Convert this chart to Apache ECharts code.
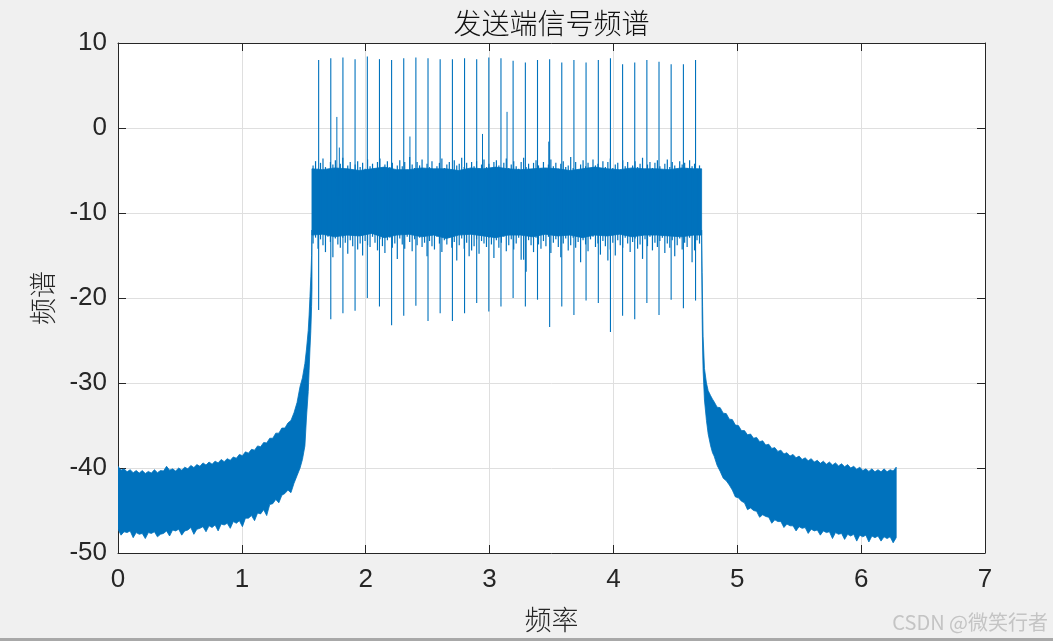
<!DOCTYPE html>
<html><head><meta charset="utf-8">
<script src="https://cdn.jsdelivr.net/npm/echarts@6/dist/echarts.min.js"></script>
<style>html,body{margin:0;padding:0;background:#f0f0f0;}#c{width:1053px;height:641px;}</style>
</head><body><div id="c"></div>
<script>
// ---------------- data ----------------
const titleText = '发送端信号频谱';
const xName = '频率';
const yName = '频谱';
const xTickLabels = ['0','1','2','3','4','5','6','7'];
const yTickLabels = ['-50','-40','-30','-20','-10','0','10'];

// stop band, left side (regular sampling grid: start, step)
const leftStart = 0, leftStep = 0.0245;
const leftHi = [-39.8,-40.25,-40.1,-40.45,-40.2,-40.55,-40.3,-40.6,-40.3,-40.65,
  -40.4,-40.6,-40.2,-40.55,-40.3,-40.35,-39.8,-40.25,-40.1,-40.35,
  -40.0,-40.25,-39.9,-40.1,-39.7,-39.95,-39.6,-39.8,-39.4,-39.65,
  -39.3,-39.55,-39.2,-39.4,-39.0,-39.25,-38.9,-39.1,-38.7,-38.85,
  -38.4,-38.55,-38.1,-38.25,-37.8,-37.9,-37.4,-37.5,-37.0,-37.05,
  -36.5,-36.5,-35.9,-35.9,-35.3,-35.3,-34.7,-34.4,-33.5,-32.3,-30.4];
const leftLo = [-47.2,-47.9,-47.5,-47.6,-47.4,-48.2,-47.6,-47.8,-47.7,-48.3,
  -47.6,-47.7,-47.5,-48.1,-47.8,-47.7,-47.4,-48.0,-47.3,-47.4,
  -47.2,-47.9,-47.4,-47.3,-47.0,-47.8,-47.2,-47.1,-46.9,-47.5,
  -46.8,-47.0,-46.7,-47.4,-46.6,-46.7,-46.5,-47.1,-46.3,-46.5,
  -46.2,-46.9,-45.9,-45.9,-45.6,-46.2,-45.3,-45.4,-44.9,-45.6,
  -44.3,-44.2,-43.7,-44.1,-43.2,-43.0,-42.6,-42.9,-41.8,-40.9,-40.0];
// left transition
const leftTransFreq = [1.489,1.509,1.522,1.536,1.543,1.550,1.557,1.563,1.566];
const leftTransHi   = [-29.4,-27.7,-26.0,-23.8,-22.0,-19.8,-17.5,-15.0,-12.0];
const leftTransLo   = [-39.0,-37.4,-34.0,-31.0,-28.5,-26.0,-23.8,-21.0,-19.0];

// right transition
const rightTransFreq = [4.712,4.716,4.720,4.724,4.735,4.751,4.765,4.785,4.800];
const rightTransHi   = [-12.0,-17.0,-21.0,-24.5,-28.3,-30.0,-30.9,-31.5,-31.9];
const rightTransLo   = [-13.5,-22.0,-26.0,-28.5,-32.0,-34.4,-36.0,-37.4,-38.2];
// stop band, right side
const rightStart = 4.813, rightStep = 0.0245;
const rightHi = [-32.2,-32.85,-32.9,-33.55,-33.6,-34.25,-34.3,-34.95,-35.0,-35.6,
  -35.6,-36.1,-36.0,-36.5,-36.4,-36.9,-36.8,-37.3,-37.2,-37.7,
  -37.6,-38.05,-37.9,-38.35,-38.2,-38.6,-38.4,-38.8,-38.6,-39.0,
  -38.8,-39.15,-38.9,-39.3,-39.1,-39.45,-39.2,-39.55,-39.3,-39.65,
  -39.4,-39.75,-39.5,-39.85,-39.6,-40.0,-39.8,-40.15,-39.9,-40.3,
  -40.1,-40.4,-40.1,-40.45,-40.2,-40.45,-40.1,-40.45,-40.2,-40.35,-39.9];
const rightLo = [-38.6,-39.7,-40.4,-41.2,-41.5,-42.0,-42.6,-43.4,-43.5,-43.9,
  -44.1,-44.9,-44.7,-45.0,-45.1,-45.8,-45.5,-45.7,-45.8,-46.5,
  -46.1,-46.3,-46.3,-47.0,-46.6,-46.8,-46.8,-47.4,-46.9,-47.1,
  -47.0,-47.7,-47.2,-47.4,-47.3,-47.9,-47.4,-47.6,-47.5,-48.3,
  -47.6,-47.8,-47.7,-48.4,-47.8,-48.0,-47.8,-48.6,-47.9,-48.1,
  -47.9,-48.7,-48.0,-48.2,-48.0,-48.6,-48.1,-48.3,-48.1,-48.8,-48.2];

// pass band dense core
const coreFreq = [1.566,1.65,1.75,1.85,1.95,2.05,2.15,2.25,2.35,2.45,2.55,2.65,2.75,2.85,2.95,3.05,
  3.15,3.25,3.35,3.45,3.55,3.65,3.75,3.85,3.95,4.05,4.15,4.25,4.35,4.45,4.55,4.65,4.712];
const coreTop = [-4.8,-4.9,-4.7,-4.8,-5.0,-4.8,-4.6,-4.9,-4.9,-4.7,-4.8,-4.8,-5.0,-4.7,-4.8,-4.6,
  -4.8,-4.9,-4.8,-4.7,-4.8,-5.0,-4.8,-4.6,-4.8,-4.9,-4.7,-4.8,-4.8,-4.9,-4.7,-4.8,-4.8];
const coreBot = [-12.6,-12.5,-12.8,-12.6,-12.7,-12.4,-12.9,-12.6,-12.5,-12.8,-12.6,-13.0,-12.6,-12.5,-12.7,-12.9,
  -12.6,-12.6,-12.8,-12.5,-12.7,-12.6,-12.9,-12.6,-12.7,-12.5,-12.8,-12.6,-12.6,-12.7,-12.8,-12.6,-12.6];

// pass band noise tips (regular grid)
const tipStart = 1.575, tipStep = 0.02;
const tipHi = [-4.4,-3.9,-4.8,-4.1,-3.6,-4.6,-5.0,-4.0,-4.3,-3.8,
  -4.7,-4.2,-3.5,-4.9,-4.4,-4.0,-5.1,-4.3,-3.9,-4.6,
  -4.1,-4.8,-3.7,-4.5,-4.2,-5.0,-4.0,-3.6,-4.7,-4.3,
  -3.9,-4.6,-4.1,-5.2,-4.4,-3.8,-4.5,-4.0,-4.9,-3.4,
  -4.3,-4.7,-4.0,-4.4,-3.7,-4.8,-4.2,-4.6,-3.9,-5.0,
  -4.5,-4.1,-3.6,-4.7,-4.3,-4.0,-4.9,-3.8,-4.4,-4.2,
  -3.5,-4.6,-4.1,-5.1,-4.0,-4.5,-3.9,-4.8,-4.3,-3.7,
  -4.6,-4.2,-4.9,-4.0,-3.8,-4.4,-5.0,-4.1,-3.6,-4.7,
  -4.3,-3.9,-4.5,-4.8,-4.0,-3.5,-4.6,-4.2,-4.9,-4.1,
  -3.8,-4.4,-4.7,-4.0,-5.1,-4.3,-3.7,-4.5,-4.1,-4.8,
  -4.2,-3.9,-4.6,-4.4,-3.4,-4.7,-4.0,-4.9,-4.3,-3.8,
  -4.5,-4.1,-5.0,-3.7,-4.4,-4.2,-4.8,-3.9,-4.6,-4.0,
  -3.6,-4.7,-4.3,-4.1,-4.9,-3.8,-4.5,-4.0,-5.2,-4.4,
  -3.9,-4.6,-4.2,-3.5,-4.8,-4.3,-4.0,-4.7,-4.1,-3.8,
  -4.5,-4.9,-4.2,-3.7,-4.6,-4.0,-4.4,-5.0,-3.9,-4.3,
  -4.1,-4.7,-3.8,-4.5,-4.2,-4.8,-4.4];
const tipLo = [-13.6,-12.9,-14.2,-13.1,-13.8,-14.6,-12.8,-13.4,-15.2,-13.0,
  -13.7,-14.1,-12.9,-13.5,-14.8,-13.2,-13.9,-12.7,-14.3,-13.6,
  -15.0,-13.3,-13.8,-14.0,-12.8,-13.5,-14.4,-13.1,-13.9,-14.7,
  -13.2,-12.9,-14.1,-13.6,-15.4,-13.0,-13.7,-14.2,-12.8,-13.4,
  -14.5,-13.1,-13.8,-12.9,-14.0,-13.5,-15.1,-13.3,-13.9,-14.3,
  -12.8,-13.6,-14.6,-13.2,-13.7,-12.9,-14.1,-13.4,-15.6,-13.8,
  -13.0,-14.2,-13.5,-15.1,-14.4,-13.9,-13.1,-14.8,-13.3,-13.6,
  -14.0,-12.9,-13.7,-15.3,-13.2,-14.1,-13.5,-12.8,-14.5,-13.8,
  -13.1,-14.3,-13.6,-12.9,-15.5,-15.5,-16.9,-13.2,-13.8,-14.6,
  -12.9,-13.7,-14.2,-13.3,-13.9,-12.8,-14.7,-13.5,-13.1,-14.0,
  -15.2,-13.6,-13.0,-14.4,-13.8,-12.9,-14.1,-13.4,-15.8,-13.2,
  -13.7,-14.5,-13.1,-12.8,-14.0,-13.6,-14.9,-13.3,-13.9,-15.6,
  -14.3,-13.5,-15.0,-13.2,-13.8,-14.1,-12.9,-13.6,-14.6,-13.4,
  -13.0,-14.2,-13.7,-15.4,-13.1,-13.9,-12.8,-14.4,-13.5,-14.0,
  -13.3,-12.9,-14.7,-13.6,-14.1,-13.2,-15.1,-13.8,-13.0,-14.3,
  -13.5,-14.0,-12.9,-15.8,-14.4,-13.2,-13.6];

// tone spikes
const spikeFreq = [1.620,1.718,1.816,1.914,2.013,2.111,2.209,2.307,2.405,2.503,2.601,2.700,2.798,2.896,2.994,3.092,
  3.190,3.289,3.387,3.485,3.583,3.681,3.779,3.878,3.976,4.074,4.172,4.270,4.368,4.466,4.565,4.663];
const spikeHi = [8.0,8.2,8.3,8.1,8.4,8.1,8.0,8.2,8.3,8.2,8.1,8.1,8.2,8.1,8.3,8.2,
  7.9,7.7,8.0,8.1,7.7,8.0,7.7,8.0,8.2,7.5,7.7,8.0,7.8,7.5,7.5,8.0];
const spikeLo = [-21.4,-22.5,-21.8,-21.5,-20.0,-21.0,-23.2,-22.1,-20.9,-22.7,-21.8,-22.7,-21.8,-20.6,-21.6,-21.0,
  -20.0,-21.0,-20.2,-23.4,-21.0,-22.0,-20.3,-20.6,-24.0,-22.1,-22.5,-20.6,-22.0,-20.2,-21.2,-20.3];
// smaller isolated peaks
const minorFreq = [1.767,1.787,2.357,2.943,3.141,3.478];
const minorHi   = [1.3,-2.3,-1.0,-0.7,1.9,-1.6];
const minorLo   = [-8.0,-8.0,-8.0,-8.0,-8.0,-8.0];

// ---------------- chart ----------------
const BLUE = '#0072BD';
const AX = '#262626';
const LATIN = '"Liberation Sans", Arial, Helvetica, sans-serif';
const CJK = '"Noto Sans CJK SC", "Noto Sans", sans-serif';

function gridX(start, step, n) { const a = []; for (let i = 0; i < n; i++) a.push(+(start + i * step).toFixed(4)); return a; }

const leftX = gridX(leftStart, leftStep, leftHi.length).concat(leftTransFreq);
const leftH = leftHi.concat(leftTransHi);
const leftL = leftLo.concat(leftTransLo);
const rightX = rightTransFreq.concat(gridX(rightStart, rightStep, rightHi.length));
const rightH = rightTransHi.concat(rightHi);
const rightL = rightTransLo.concat(rightLo);

function bandSeries(xs, hi, lo) {
  return {
    type: 'custom', clip: true, silent: true, z: 2,
    data: [[xs[0], hi[0]]],
    renderItem(params, api) {
      const pts = [];
      for (let i = 0; i < xs.length; i++) pts.push(api.coord([xs[i], hi[i]]));
      for (let i = xs.length - 1; i >= 0; i--) pts.push(api.coord([xs[i], lo[i]]));
      return { type: 'polygon', shape: { points: pts }, style: { fill: BLUE, stroke: BLUE, lineWidth: 0.8 } };
    }
  };
}
function segSeries(data, width) {
  return {
    type: 'custom', clip: true, silent: true, z: 3,
    data, encode: { x: 0, y: [1, 2] },
    renderItem(params, api) {
      const a = api.coord([api.value(0), api.value(1)]);
      const b = api.coord([api.value(0), api.value(2)]);
      return { type: 'line', shape: { x1: a[0], y1: a[1], x2: b[0], y2: b[1] }, style: { stroke: BLUE, lineWidth: width } };
    }
  };
}

const tipData = tipHi.map((h, i) => [+(tipStart + i * tipStep).toFixed(4), h, tipLo[i]]);
const spikeData = spikeFreq.map((f, i) => [f, spikeHi[i], spikeLo[i]]);
const minorData = minorFreq.map((f, i) => [f, minorHi[i], minorLo[i]]);

const axisCommon = {
  type: 'value',
  axisLine: { show: true, onZero: false, lineStyle: { color: AX, width: 1 } },
  axisTick: { show: true, inside: true, length: 8, lineStyle: { color: AX, width: 1 } },
};

const chart = echarts.init(document.getElementById('c'), null, { renderer: 'canvas' });
chart.setOption({
  animation: false,
  backgroundColor: '#f0f0f0',
  grid: { left: 118, right: 68, top: 43, bottom: 88, show: true, backgroundColor: '#ffffff', borderWidth: 0 },
  xAxis: [
    Object.assign({}, axisCommon, {
      min: 0, max: 7, interval: 1, position: 'bottom',
      axisLabel: { margin: 14, color: AX, fontFamily: LATIN, fontSize: 26, formatter: v => xTickLabels[Math.round(v)] },
      splitLine: { show: true, lineStyle: { color: '#dfdfdf', width: 1 } },
      name: xName, nameLocation: 'middle', nameGap: 53,
      nameTextStyle: { fontFamily: CJK, fontSize: 27, fontWeight: 300, color: AX }
    }),
    Object.assign({}, axisCommon, {
      min: 0, max: 7, interval: 1, position: 'top',
      axisLabel: { show: false }, splitLine: { show: false }
    })
  ],
  yAxis: [
    Object.assign({}, axisCommon, {
      min: -50, max: 10, interval: 10, position: 'left',
      axisLabel: { margin: 11, color: AX, fontFamily: LATIN, fontSize: 26, formatter: v => yTickLabels[Math.round((v + 50) / 10)] },
      splitLine: { show: true, lineStyle: { color: '#dfdfdf', width: 1 } },
      name: yName, nameLocation: 'middle', nameGap: 62, nameRotate: 90,
      nameTextStyle: { fontFamily: CJK, fontSize: 27, fontWeight: 300, color: AX }
    }),
    Object.assign({}, axisCommon, {
      min: -50, max: 10, interval: 10, position: 'right',
      axisLabel: { show: false }, splitLine: { show: false }
    })
  ],
  series: [
    bandSeries(leftX, leftH, leftL),
    bandSeries(rightX, rightH, rightL),
    bandSeries(coreFreq, coreTop, coreBot),
    segSeries(tipData, 1.2),
    segSeries(minorData, 1),
    segSeries(spikeData, 1.1)
  ],
  graphic: [
    { type: 'text', x: 551.5, y: 23, style: { text: titleText, font: '300 28px ' + CJK, fill: '#111', align: 'center', verticalAlign: 'middle' } },
    { type: 'text', right: 5, top: 612, style: { text: 'CSDN @微笑行者', font: '20px ' + CJK, fill: '#c4c4c4' } },
    { type: 'rect', left: 0, top: 638, shape: { width: 1053, height: 3 }, style: { fill: '#a8a8a8' } }
  ]
});
</script></body></html>
